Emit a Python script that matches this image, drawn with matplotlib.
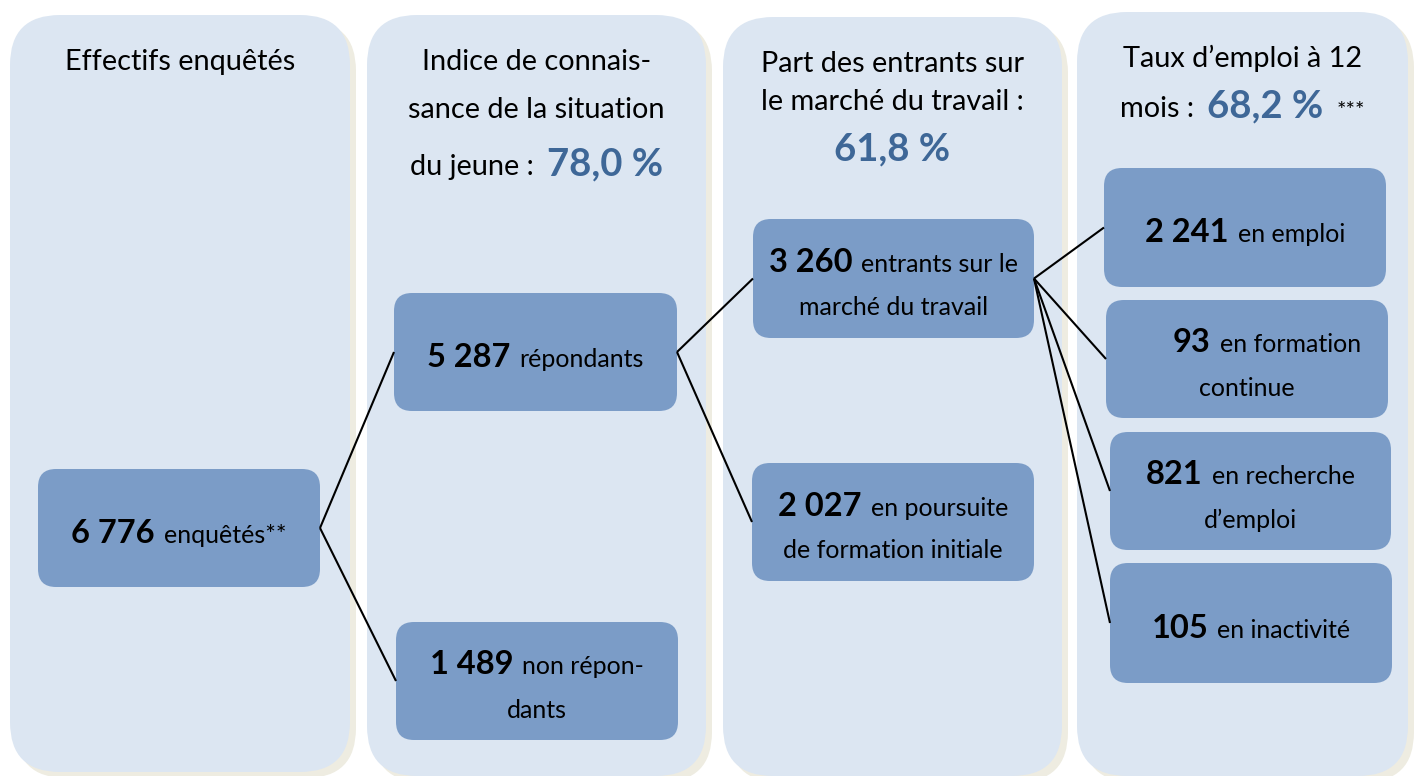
import matplotlib.pyplot as plt
from matplotlib.patches import FancyBboxPatch

plt.rcParams['font.family'] = ['Lato', 'DejaVu Sans']

# --- data ---------------------------------------------------------------
col_titles = ["Effectifs enquêtés",
              "Indice de connais-\nsance de la situation\ndu jeune :",
              "Part des entrants sur\nle marché du travail :",
              "Taux d’emploi à 12\nmois :"]
col_rates = [None, "78,0 %", "61,8 %", "68,2 %"]
rate_notes = ["", "", "", "***"]

box_values = ["6 776", "5 287", "1 489", "3 260", "2 027",
              "2 241", "93", "821", "105"]
box_labels = ["enquêtés**", "répondants", "non répon-\ndants",
              "entrants sur le\nmarché du travail",
              "en poursuite\nde formation initiale",
              "en emploi", "en formation\ncontinue",
              "en recherche\nd’emploi", "en inactivité"]
links = [(0, 1), (0, 2), (1, 3), (1, 4), (3, 5), (3, 6), (3, 7), (3, 8)]

# --- layout (pixels) ----------------------------------------------------
W, H = 1414, 776
columns = [(10, 15, 350, 772), (367, 15, 706, 776),
           (723, 17, 1062, 776), (1077, 12, 1408, 776)]
title_baselines = [[70], [70, 118, 175], [72, 110, 160], [67, 117]]
rate_inline = [False, True, False, True]

boxes = [(38, 469, 320, 587), (394, 293, 677, 411), (396, 622, 678, 740),
         (753, 219, 1034, 338), (752, 463, 1034, 581),
         (1104, 168, 1386, 287), (1106, 300, 1388, 418),
         (1110, 432, 1391, 550), (1110, 563, 1392, 683)]
first_dx = [0, 0, 0, 0, 0, 0, 20, 0, 0]

col_bg = '#dce6f2'
box_bg = '#7b9cc7'
shadow = '#eeece1'
rate_col = '#3e6797'

fig = plt.figure(figsize=(W / 100, H / 100), dpi=100)
ax = fig.add_axes([0, 0, 1, 1])
ax.set_xlim(0, W)
ax.set_ylim(H, 0)
ax.axis('off')
renderer = fig.canvas.get_renderer()


def rbox(x0, y0, x1, y1, r, fc, sh):
    ax.add_patch(FancyBboxPatch((x0 + sh, y0 + sh), x1 - x0, y1 - y0,
                                boxstyle=f"round,pad=0,rounding_size={r}",
                                fc=shadow, ec='none', zorder=1))
    ax.add_patch(FancyBboxPatch((x0, y0), x1 - x0, y1 - y0,
                                boxstyle=f"round,pad=0,rounding_size={r}",
                                fc=fc, ec='none', zorder=2))


def rich(cx, y, parts, gap=9, dx=0):
    objs = [ax.text(0, y, s, va='baseline', ha='left', zorder=5, **kw)
            for s, kw in parts]
    widths = [o.get_window_extent(renderer).width for o in objs]
    total = sum(widths) + gap * (len(objs) - 1)
    x = cx + dx - total / 2
    for o, w in zip(objs, widths):
        o.set_x(x)
        x += w + gap


head = dict(fontsize=20.8, color='black')
rate = dict(fontsize=27.5, color=rate_col, fontweight='bold')
num = dict(fontsize=23.5, color='black', fontweight='bold')
lab = dict(fontsize=18, color='black')

# columns
for i, (x0, y0, x1, y1) in enumerate(columns):
    rbox(x0, y0, x1, y1, 50, col_bg, 6)
    cx = (x0 + x1) / 2
    lines = col_titles[i].split('\n')
    ys = title_baselines[i]
    for j, line in enumerate(lines):
        parts = [(line, head)]
        if j == len(lines) - 1 and col_rates[i] and rate_inline[i]:
            parts.append((col_rates[i], rate))
            if rate_notes[i]:
                parts.append((rate_notes[i], dict(fontsize=16)))
        rich(cx, ys[j], parts, gap=13)
    if col_rates[i] and not rate_inline[i]:
        rich(cx, ys[-1], [(col_rates[i], rate)])

# connectors
for a, b in links:
    xa = boxes[a][2]
    ya = (boxes[a][1] + boxes[a][3]) / 2
    xb = boxes[b][0]
    yb = (boxes[b][1] + boxes[b][3]) / 2
    ax.plot([xa, xb], [ya, yb], color='black', lw=1.5, zorder=4,
            solid_capstyle='butt')

# boxes
for i, (x0, y0, x1, y1) in enumerate(boxes):
    rbox(x0, y0, x1, y1, 18, box_bg, 5)
    cx = (x0 + x1) / 2
    cy = (y0 + y1) / 2
    lines = box_labels[i].split('\n')
    if len(lines) == 1:
        rich(cx, cy + 15, [(box_values[i], num), (lines[0], lab)])
    else:
        rich(cx, cy + 15 - 21.5, [(box_values[i], num), (lines[0], lab)],
             dx=first_dx[i])
        rich(cx, cy + 15 + 21.5, [(lines[1], lab)])

fig.savefig('out.png', dpi=100, facecolor='white')
